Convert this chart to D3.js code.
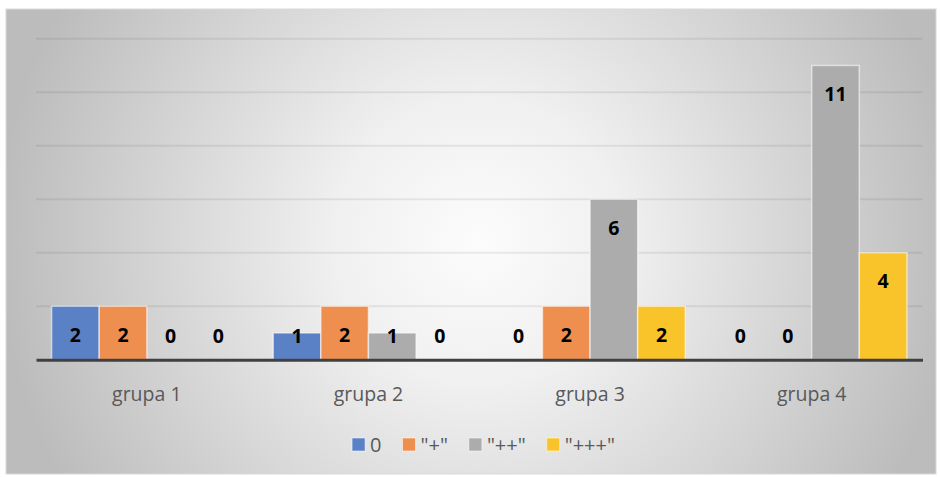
<!DOCTYPE html>
<html>
<head>
<meta charset="utf-8">
<script src="https://cdn.jsdelivr.net/npm/d3@7"></script>
<style>
  html, body { margin: 0; padding: 0; background: #ffffff; }
  svg { display: block; }
</style>
</head>
<body>
<svg id="chart" width="940" height="477"></svg>
<script>
const categories = ["grupa 1", "grupa 2", "grupa 3", "grupa 4"];
const seriesNames = ["0", "\"+\"", "\"++\"", "\"+++\""];
const seriesColors = ["#5a81c6", "#ef8f4f", "#acacac", "#f9c32a"];
const values0 = [2, 1, 0, 0];
const valuesPlus = [2, 2, 2, 0];
const valuesPlus2 = [0, 1, 6, 11];
const valuesPlus3 = [0, 0, 2, 4];
const yTicks = [0, 2, 4, 6, 8, 10, 12];

const seriesValues = [values0, valuesPlus, valuesPlus2, valuesPlus3];

const svg = d3.select("#chart");
const box = { x: 6, y: 9, w: 930, h: 465 };

const defs = svg.append("defs");
const grad = defs.append("radialGradient")
  .attr("id", "bg")
  .attr("gradientUnits", "userSpaceOnUse")
  .attr("cx", 478).attr("cy", 242).attr("r", 480);
grad.append("stop").attr("offset", "0").attr("stop-color", "#fcfcfc");
grad.append("stop").attr("offset", "0.3").attr("stop-color", "#f0f0f0");
grad.append("stop").attr("offset", "1").attr("stop-color", "#bcbcbc");

svg.append("rect")
  .attr("x", box.x).attr("y", box.y).attr("width", box.w).attr("height", box.h)
  .attr("fill", "url(#bg)")
  .attr("stroke", "#d9d9d9").attr("stroke-width", 1);

const x0 = d3.scaleBand().domain(categories).range([36, 922.5]).padding(0);
const padIn = x0.bandwidth() * 0.0704;
const x1 = d3.scaleBand().domain(seriesNames).range([padIn, x0.bandwidth() - padIn]).padding(0);
const y = d3.scaleLinear().domain([0, 12]).range([359.7, 38.7]);

// gridlines
svg.append("g").selectAll("line").data(yTicks.filter(t => t > 0)).join("line")
  .attr("x1", 36).attr("x2", 922.5)
  .attr("y1", d => y(d)).attr("y2", d => y(d))
  .attr("stroke", "rgba(0,0,0,0.07)").attr("stroke-width", 2);

// bars
const groups = svg.append("g").selectAll("g").data(categories).join("g")
  .attr("transform", c => `translate(${x0(c)},0)`);

groups.each(function(c, ci) {
  const g = d3.select(this);
  const data = seriesNames.map((s, si) => ({ s, si, v: seriesValues[si][ci] }));
  g.selectAll("rect").data(data.filter(d => d.v > 0)).join("rect")
    .attr("x", d => x1(d.s))
    .attr("width", x1.bandwidth())
    .attr("y", d => y(d.v))
    .attr("height", d => y(0) - y(d.v))
    .attr("fill", d => seriesColors[d.si])
    .attr("stroke", "rgba(255,255,255,0.55)")
    .attr("stroke-width", 1.5);
  g.selectAll("text").data(data).join("text")
    .attr("x", d => x1(d.s) + x1.bandwidth() / 2)
    .attr("y", d => Math.min(y(d.v) + 28.5, y(0) - 23.5))
    .attr("dy", "0.36em")
    .attr("text-anchor", "middle")
    .attr("font-family", "'Open Sans', sans-serif")
    .attr("font-weight", "bold")
    .attr("font-size", 19.5)
    .attr("fill", "#000")
    .text(d => d.v);
});

// axis line
const xAxis = d3.axisBottom(x0).tickSize(0).tickPadding(0);
const axisG = svg.append("g").attr("transform", `translate(0,${y(0)})`).call(xAxis);
axisG.select(".domain").attr("stroke", "#404040").attr("stroke-width", 3);
axisG.selectAll(".tick text")
  .attr("y", 41.3).attr("dy", 0)
  .attr("font-family", "'Open Sans', sans-serif")
  .attr("font-size", 19.5)
  .attr("fill", "#595959");

// legend
const legend = svg.append("g");
const items = legend.selectAll("g").data(seriesNames).join("g");
items.append("rect")
  .attr("width", 13).attr("height", 13)
  .attr("y", 438)
  .attr("fill", (d, i) => seriesColors[i])
  .attr("stroke", "rgba(255,255,255,0.5)").attr("stroke-width", 1);
items.append("text")
  .attr("x", 18).attr("y", 451.5)
  .attr("font-family", "'Open Sans', sans-serif")
  .attr("font-size", 20)
  .attr("fill", "#595959")
  .text(d => d);
let widths = [];
items.each(function() {
  widths.push(18 + d3.select(this).select("text").node().getComputedTextLength());
});
const gap = 21;
const total = d3.sum(widths) + gap * (widths.length - 1);
let cx = 483.5 - total / 2;
items.each(function(d, i) {
  d3.select(this).attr("transform", `translate(${cx},0)`);
  cx += widths[i] + gap;
});
</script>
</body>
</html>
